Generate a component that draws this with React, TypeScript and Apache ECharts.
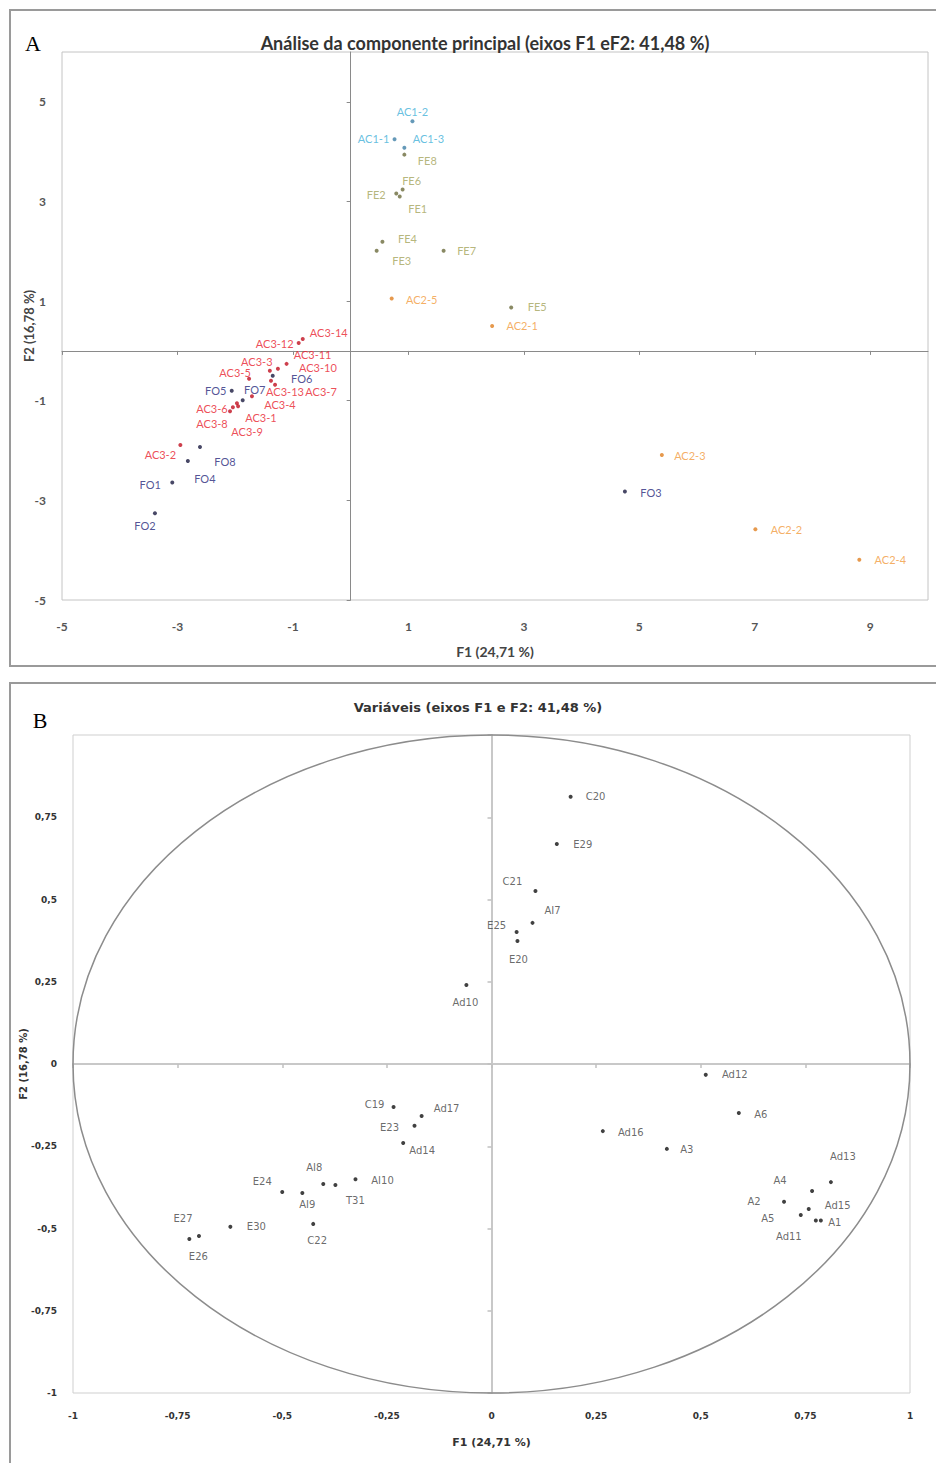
import React, { useEffect, useRef } from 'react';
import * as echarts from 'echarts';

// ---------- Panel A data (observations, F1 x F2) ----------
const ac1Names = ['AC1-1', 'AC1-2', 'AC1-3'];
const ac1X = [0.76, 1.07, 0.93];
const ac1Y = [4.25, 4.61, 4.08];

const feNames = ['FE1', 'FE2', 'FE3', 'FE4', 'FE5', 'FE6', 'FE7', 'FE8'];
const feX = [0.85, 0.79, 0.45, 0.55, 2.78, 0.9, 1.61, 0.93];
const feY = [3.1, 3.16, 2.01, 2.19, 0.87, 3.24, 2.01, 3.94];

const ac2Names = ['AC2-1', 'AC2-2', 'AC2-3', 'AC2-4', 'AC2-5'];
const ac2X = [2.45, 7.01, 5.39, 8.81, 0.71];
const ac2Y = [0.5, -3.58, -2.09, -4.19, 1.05];

const ac3Names = ['AC3-1', 'AC3-2', 'AC3-3', 'AC3-4', 'AC3-5', 'AC3-6', 'AC3-7', 'AC3-8', 'AC3-9', 'AC3-10', 'AC3-11', 'AC3-12', 'AC3-13', 'AC3-14'];
const ac3X = [-1.97, -2.95, -1.4, -1.71, -1.76, -2.04, -1.31, -2.09, -1.95, -1.26, -1.11, -0.9, -1.38, -0.83];
const ac3Y = [-1.05, -1.89, -0.4, -0.91, -0.56, -1.13, -0.68, -1.21, -1.11, -0.36, -0.26, 0.16, -0.6, 0.24];

const foNames = ['FO1', 'FO2', 'FO3', 'FO4', 'FO5', 'FO6', 'FO7', 'FO8'];
const foX = [-3.09, -3.39, 4.75, -2.82, -2.06, -1.35, -1.87, -2.61];
const foY = [-2.64, -3.26, -2.82, -2.21, -0.8, -0.5, -0.99, -1.93];

const aXTicks = [-5, -3, -1, 1, 3, 5, 7, 9];
const aYTicks = [-5, -3, -1, 1, 3, 5];

// ---------- Panel B data (variables, correlation circle) ----------
const varNames = ['C20', 'E29', 'C21', 'AI7', 'E25', 'E20', 'Ad10', 'Ad12', 'A6', 'Ad16', 'A3', 'Ad13', 'A4', 'A2', 'Ad15', 'A5', 'Ad11', 'A1', 'C19', 'Ad17', 'E23', 'Ad14', 'AI8', 'AI10', 'T31', 'AI9', 'E24', 'C22', 'E30', 'E27', 'E26'];
const varF1 = [0.189, 0.156, 0.105, 0.098, 0.06, 0.062, -0.06, 0.512, 0.591, 0.266, 0.419, 0.811, 0.766, 0.699, 0.758, 0.739, 0.775, 0.787, -0.234, -0.167, -0.184, -0.211, -0.402, -0.325, -0.373, -0.452, -0.5, -0.426, -0.624, -0.699, -0.722];
const varF2 = [0.812, 0.669, 0.526, 0.429, 0.401, 0.374, 0.24, -0.033, -0.149, -0.204, -0.258, -0.359, -0.386, -0.419, -0.441, -0.459, -0.476, -0.476, -0.131, -0.158, -0.188, -0.24, -0.365, -0.35, -0.368, -0.392, -0.389, -0.486, -0.495, -0.523, -0.532];

// ---------- label placement (pixels, relative to the point) ----------
const offA: Record<string, [number, number]> = {
  'AC1-1': [-21, -1], 'AC1-2': [0, -10], 'AC1-3': [24, -9],
  FE1: [18, 12], FE2: [-20, 1], FE3: [25, 10], FE4: [25, -3], FE5: [26, -1], FE6: [9, -9], FE7: [23, 0], FE8: [23, 6],
  'AC2-1': [30, -1], 'AC2-2': [31, 0], 'AC2-3': [28, 0], 'AC2-4': [31, 0], 'AC2-5': [30, 1],
  'AC3-1': [24, 14], 'AC3-2': [-20, 9], 'AC3-3': [-13, -9], 'AC3-4': [28, 8], 'AC3-5': [-14, -6], 'AC3-6': [-21, 1],
  'AC3-7': [46, 7], 'AC3-8': [-18, 12], 'AC3-9': [9, 25], 'AC3-10': [40, -1], 'AC3-11': [26, -9], 'AC3-12': [-24, 1],
  'AC3-13': [14, 11], 'AC3-14': [26, -6],
  FO1: [-22, 2], FO2: [-10, 12], FO3: [26, 1], FO4: [17, 17], FO5: [-16, 0], FO6: [29, 3], FO7: [12, -11], FO8: [25, 14],
};
const offB: Record<string, [number, number]> = {
  C20: [25, 0], E29: [26, 1], C21: [-23, -9], AI7: [20, -12], E25: [-20, -7], E20: [1, 19], Ad10: [-1, 17],
  Ad12: [29, 0], A6: [22, 1], Ad16: [28, 1], A3: [20, 1], Ad13: [12, -26], A4: [-32, -10], A2: [-30, 0],
  Ad15: [29, -4], A5: [-33, 3], Ad11: [-27, 16], A1: [14, 2], C19: [-19, -3], Ad17: [25, -7], E23: [-25, 2],
  Ad14: [19, 8], AI8: [-9, -17], AI10: [27, 1], T31: [20, 15], AI9: [5, 12], E24: [-20, -10], C22: [4, 17],
  E30: [26, 0], E27: [-16, -18], E26: [9, 17],
};

const build = (names: string[], xs: number[], ys: number[], off: Record<string, [number, number]>) =>
  names.map((n, i) => ({ name: n, value: [xs[i], ys[i]], label: { offset: off[n] || [20, 0] } }));

const fontA = 'Lato, "Open Sans", sans-serif';
const fontB = '"DejaVu Sans", Verdana, sans-serif';
const comma = (v: number) => String(v).replace('.', ',');

export default function App() {
  const ref = useRef<HTMLDivElement>(null);
  useEffect(() => {
    document.body.style.margin = '0';
    const chart = echarts.init(ref.current!, null, { renderer: 'svg' });

    const groupA = (name: string, names: string[], xs: number[], ys: number[], labelColor: string, dotColor: string) => ({
      type: 'scatter',
      name,
      xAxisIndex: 0,
      yAxisIndex: 0,
      symbolSize: 4,
      itemStyle: { color: dotColor },
      label: { show: true, position: 'inside', formatter: '{b}', color: labelColor, fontSize: 11, fontFamily: fontA },
      emphasis: { disabled: true },
      data: build(names, xs, ys, offA),
    });

    const option: any = {
      animation: false,
      backgroundColor: '#fff',
      grid: [
        { left: 62, top: 52, width: 866, height: 548, show: true, borderColor: '#c4c4c4', borderWidth: 1, backgroundColor: '#fff' },
        { left: 73, top: 735, width: 837, height: 658, show: true, borderColor: '#cfcfcf', borderWidth: 1, backgroundColor: '#fff' },
      ],
      xAxis: [
        {
          gridIndex: 0, type: 'value', min: -5, max: 10, position: 'bottom',
          axisLine: { show: false, onZero: false }, axisTick: { show: false }, splitLine: { show: false },
          axisLabel: { customValues: aXTicks, color: '#555', fontSize: 12, fontWeight: 'bold', fontFamily: fontA, margin: 20 },
          name: 'F1 (24,71 %)', nameLocation: 'middle', nameGap: 44, nameMoveOverlap: false,
          nameTextStyle: { color: '#444', fontSize: 14, fontWeight: 'bold', fontFamily: fontA },
        },
        {
          gridIndex: 0, type: 'value', min: -5, max: 10, position: 'bottom',
          axisLine: { show: true, onZero: true, onZeroAxisIndex: 1, lineStyle: { color: '#8a8a8a', width: 1 } },
          axisTick: { show: true, customValues: aXTicks, length: 4, lineStyle: { color: '#8a8a8a' } },
          axisLabel: { show: false }, splitLine: { show: false },
        },
        {
          gridIndex: 1, type: 'value', min: -1, max: 1, interval: 0.25, position: 'bottom',
          axisLine: { show: false, onZero: false }, axisTick: { show: false }, splitLine: { show: false },
          axisLabel: { formatter: comma, color: '#333', fontSize: 9, fontWeight: 'bold', fontFamily: fontB, margin: 18 },
          name: 'F1 (24,71 %)', nameLocation: 'middle', nameGap: 44, nameMoveOverlap: false,
          nameTextStyle: { color: '#333', fontSize: 11, fontWeight: 'bold', fontFamily: fontB },
        },
        {
          gridIndex: 1, type: 'value', min: -1, max: 1, interval: 0.25, position: 'bottom',
          axisLine: { show: true, onZero: true, onZeroAxisIndex: 3, lineStyle: { color: '#c8c8c8', width: 2 } },
          axisTick: { show: true, length: 4, lineStyle: { color: '#c0c0c0', width: 1.5 } },
          axisLabel: { show: false }, splitLine: { show: false },
        },
      ],
      yAxis: [
        {
          gridIndex: 0, type: 'value', min: -5, max: 6, position: 'left',
          axisLine: { show: false, onZero: false }, axisTick: { show: false }, splitLine: { show: false },
          axisLabel: { customValues: aYTicks, color: '#555', fontSize: 12, fontWeight: 'bold', fontFamily: fontA, margin: 16 },
          name: 'F2 (16,78 %)', nameLocation: 'middle', nameGap: 27, nameMoveOverlap: false,
          nameTextStyle: { color: '#444', fontSize: 13, fontWeight: 'bold', fontFamily: fontA },
        },
        {
          gridIndex: 0, type: 'value', min: -5, max: 6, position: 'left',
          axisLine: { show: true, onZero: true, onZeroAxisIndex: 0, lineStyle: { color: '#8a8a8a', width: 1 } },
          axisTick: { show: true, customValues: aYTicks, length: 4, lineStyle: { color: '#8a8a8a' } },
          axisLabel: { show: false }, splitLine: { show: false },
        },
        {
          gridIndex: 1, type: 'value', min: -1, max: 1, interval: 0.25, position: 'left',
          axisLine: { show: false, onZero: false }, axisTick: { show: false }, splitLine: { show: false },
          axisLabel: { formatter: comma, showMaxLabel: false, color: '#333', fontSize: 9, fontWeight: 'bold', fontFamily: fontB, margin: 16 },
          name: 'F2 (16,78 %)', nameLocation: 'middle', nameGap: 45, nameMoveOverlap: false,
          nameTextStyle: { color: '#333', fontSize: 10, fontWeight: 'bold', fontFamily: fontB },
        },
        {
          gridIndex: 1, type: 'value', min: -1, max: 1, interval: 0.25, position: 'left',
          axisLine: { show: true, onZero: true, onZeroAxisIndex: 2, lineStyle: { color: '#c8c8c8', width: 2 } },
          axisTick: { show: true, length: 4, lineStyle: { color: '#c0c0c0', width: 1.5 } },
          axisLabel: { show: false }, splitLine: { show: false },
        },
      ],
      graphic: [
        { type: 'rect', shape: { x: 10, y: 10, width: 940, height: 656 }, style: { fill: 'none', stroke: '#9a9a9a', lineWidth: 2 }, silent: true },
        { type: 'rect', shape: { x: 10, y: 683, width: 940, height: 800 }, style: { fill: 'none', stroke: '#9a9a9a', lineWidth: 2 }, silent: true },
        { type: 'text', x: 33, y: 43, style: { text: 'A', font: '22px "Liberation Serif", serif', fill: '#000', align: 'center', verticalAlign: 'middle' } },
        { type: 'text', x: 485, y: 43, style: { text: 'Análise da componente principal (eixos F1 eF2: 41,48 %)', font: 'bold 18px Lato, "Open Sans", sans-serif', fill: '#333', align: 'center', verticalAlign: 'middle' } },
        { type: 'text', x: 40, y: 720, style: { text: 'B', font: '22px "Liberation Serif", serif', fill: '#000', align: 'center', verticalAlign: 'middle' } },
        { type: 'text', x: 478, y: 707, style: { text: 'Variáveis (eixos F1 e F2: 41,48 %)', font: 'bold 13px "DejaVu Sans", sans-serif', fill: '#333', align: 'center', verticalAlign: 'middle' } },
      ],
      series: [
        groupA('AC1', ac1Names, ac1X, ac1Y, '#3fb0d8', '#3f7fa6'),
        groupA('FE', feNames, feX, feY, '#a3a35a', '#6b6b3c'),
        groupA('AC2', ac2Names, ac2X, ac2Y, '#f29a3c', '#e07f20'),
        groupA('AC3', ac3Names, ac3X, ac3Y, '#e8202c', '#c01020'),
        groupA('FO', foNames, foX, foY, '#26267a', '#1a1a40'),
        {
          type: 'custom',
          xAxisIndex: 2,
          yAxisIndex: 2,
          silent: true,
          data: [[0, 0]],
          renderItem: (_p: any, api: any) => {
            const c = api.coord([0, 0]);
            const e = api.coord([1, 1]);
            return {
              type: 'ellipse',
              shape: { cx: c[0], cy: c[1], rx: Math.abs(e[0] - c[0]), ry: Math.abs(e[1] - c[1]) },
              style: { fill: 'none', stroke: '#8c8c8c', lineWidth: 1.5 },
            };
          },
        },
        {
          type: 'scatter',
          name: 'Variáveis',
          xAxisIndex: 2,
          yAxisIndex: 2,
          symbolSize: 4,
          itemStyle: { color: '#111' },
          label: { show: true, position: 'inside', formatter: '{b}', color: '#444', fontSize: 10, fontFamily: fontB },
          emphasis: { disabled: true },
          data: build(varNames, varF1, varF2, offB),
        },
      ],
    };
    chart.setOption(option);
    return () => chart.dispose();
  }, []);
  return <div ref={ref} style={{ position: 'absolute', left: 0, top: 0, width: 936, height: 1463 }} />;
}
